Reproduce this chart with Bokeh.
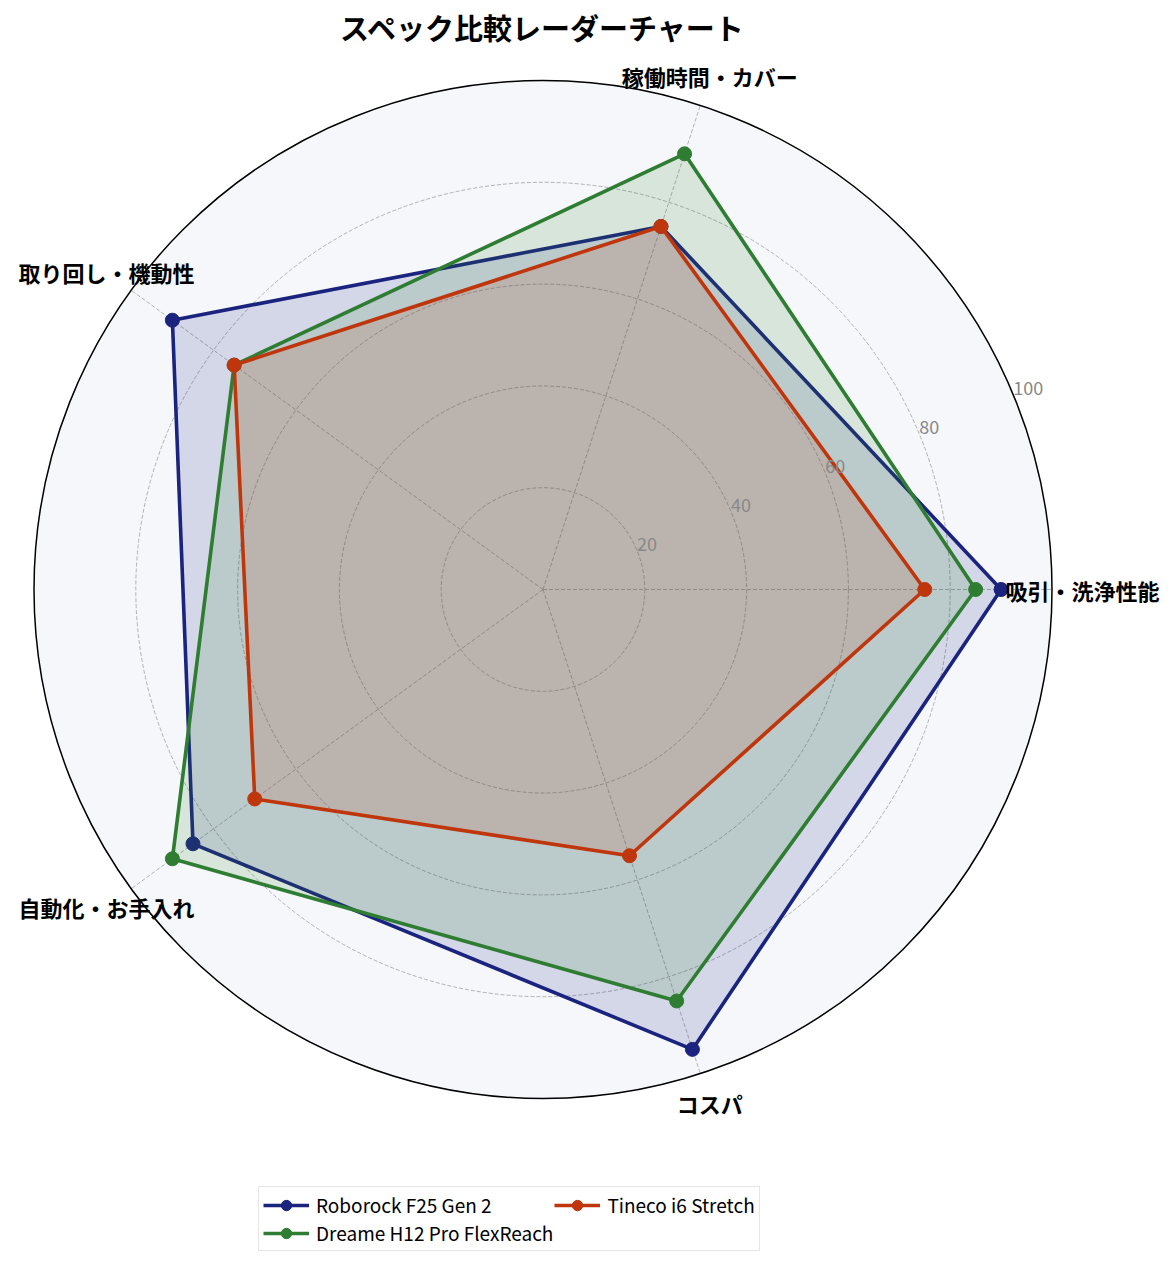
import numpy as np
from bokeh.plotting import figure
from bokeh.models import Range1d, Legend, LegendItem, Label, ColumnDataSource
from bokeh.core.properties import value
from bokeh.embed import file_html
from bokeh.resources import INLINE

# ---- data ----
categories = ["吸引・洗浄性能", "稼働時間・カバー", "取り回し・機動性", "自動化・お手入れ", "コスパ"]
series_names = ["Roborock F25 Gen 2", "Dreame H12 Pro FlexReach", "Tineco i6 Stretch"]
roborock = [90, 75, 90, 85, 95]
dreame = [85, 90, 75, 90, 85]
tineco = [75, 75, 75, 70, 55]
series_colors = ["#1a237e", "#2e7d32", "#bf360c"]
r_ticks = [20, 40, 60, 80, 100]
r_max = 100

FONT = "Noto Sans CJK JP"
W, H = 1160, 1251
S = 5.09              # px per unit
CX, CY = 542.5, 589   # center in canvas px (from top-left)

p = figure(width=W, height=H, output_backend="svg", toolbar_location=None,
           x_range=Range1d(-CX / S, (W - CX) / S),
           y_range=Range1d(-(H - CY) / S, CY / S),
           min_border=0, outline_line_color=None,
           background_fill_color="white", border_fill_color="white")
p.axis.visible = False
p.grid.visible = False

n = len(categories)
angles = np.array([i * 2 * np.pi / n for i in range(n)])

# background disc
p.circle(x=[0], y=[0], radius=r_max, fill_color="#f5f7fa", line_color=None)

# grid circles
for t in r_ticks[:-1]:
    p.circle(x=[0], y=[0], radius=t, fill_color=None, line_color="#a0a0a0",
             line_width=0.8, line_dash="4 2")

# spokes
p.segment(x0=[0] * n, y0=[0] * n, x1=list(r_max * np.cos(angles)), y1=list(r_max * np.sin(angles)),
          line_color="#a0a0a0", line_width=0.8, line_dash="4 2")

# series
items = []
for name, vals, col in zip(series_names, [roborock, dreame, tineco], series_colors):
    v = np.array(vals, dtype=float)
    xs = v * np.cos(angles)
    ys = v * np.sin(angles)
    p.patch(x=list(xs), y=list(ys), fill_color=col, fill_alpha=0.15, line_color=None)
    xc = list(xs) + [xs[0]]
    yc = list(ys) + [ys[0]]
    lr = p.line(x=xc, y=yc, line_color=col, line_width=3.6)
    sr = p.scatter(x=list(xs), y=list(ys), size=14, marker="circle", fill_color=col, line_color=col)
    items.append(LegendItem(label=name, renderers=[lr, sr]))

# outer circle (spine)
p.circle(x=[0], y=[0], radius=r_max, fill_color=None, line_color="black", line_width=1.5)

# category labels
lab_r = 106
src = ColumnDataSource(dict(x=list(lab_r * np.cos(angles)), y=list(lab_r * np.sin(angles)), t=categories))
p.text(x="x", y="y", text="t", source=src, text_font=value(FONT), text_font_style="bold",
       text_font_size="22px", text_align="center", text_baseline="middle", text_color="black")

# radial tick labels
ang_lbl = np.deg2rad(22.5)
tsrc = ColumnDataSource(dict(x=[t * np.cos(ang_lbl) for t in r_ticks],
                             y=[t * np.sin(ang_lbl) for t in r_ticks],
                             t=[str(t) for t in r_ticks]))
p.text(x="x", y="y", text="t", source=tsrc, text_font=value(FONT), text_font_size="18px",
       text_align="left", text_baseline="bottom", text_color="#888888")

# title
title = Label(x=0, y=H - 26, x_units="data", y_units="screen", text="スペック比較レーダーチャート",
              text_font=FONT, text_font_style="bold", text_font_size="29px",
              text_align="center", text_baseline="middle", text_color="black")
p.add_layout(title)

legend = Legend(items=items, location=(258, 0), orientation="vertical", ncols=2,
                label_text_font=FONT, label_text_font_size="19px", label_text_color="black",
                glyph_width=46, glyph_height=26, label_standoff=7, spacing=1, padding=4,
                border_line_color="#cccccc", border_line_width=1.2,
                background_fill_color="white", background_fill_alpha=0.9, margin=0)
p.add_layout(legend)

open("out.html", "w").write(file_html(p, INLINE))
